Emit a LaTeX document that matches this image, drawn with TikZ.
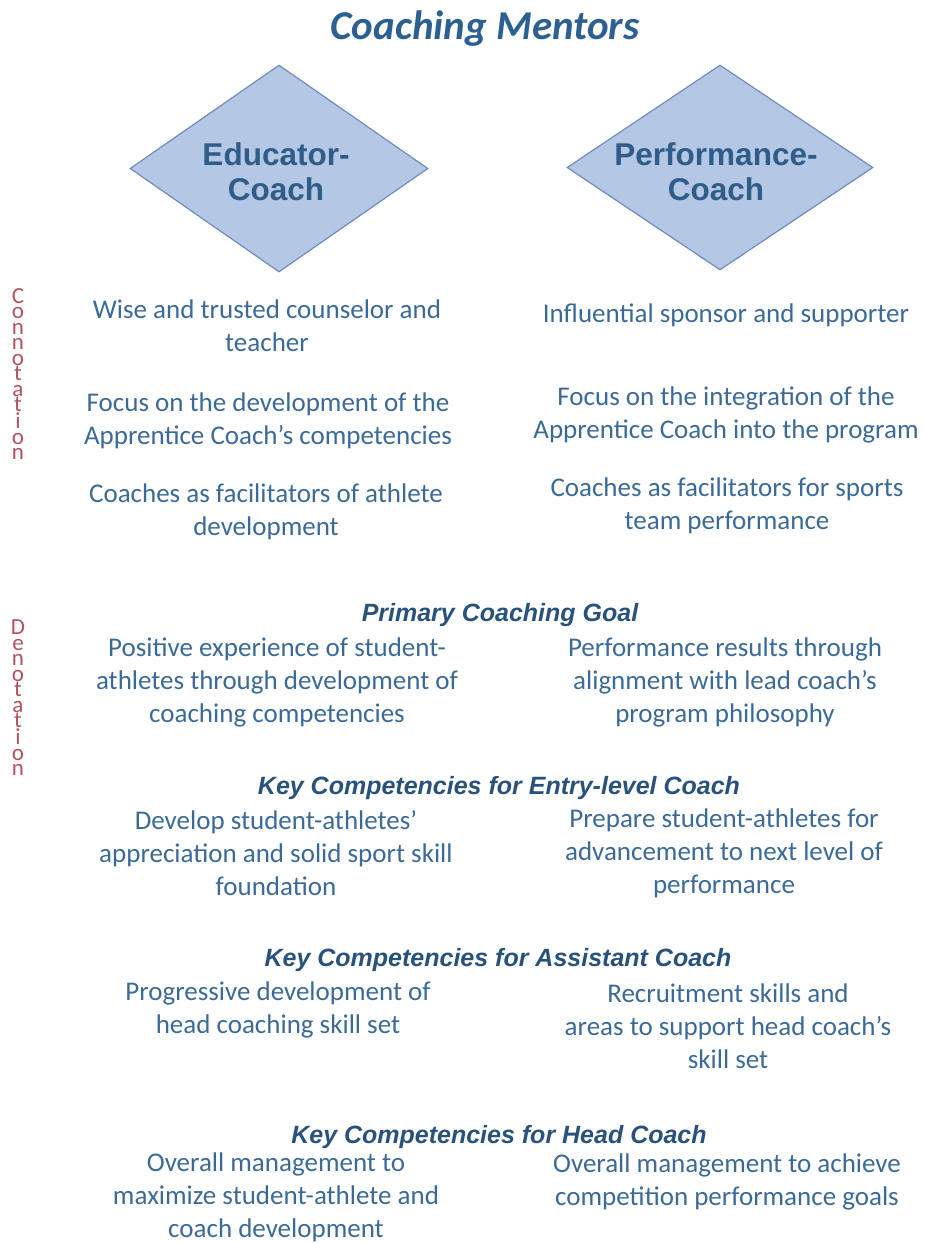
\documentclass[tikz,border=0pt]{standalone}
\usepackage{fontspec}
\setmainfont{Carlito}
\newfontfamily\arialf{Liberation Sans}
\usetikzlibrary{shapes.geometric}
\definecolor{bodyblue}{RGB}{59,106,153}
\definecolor{headblue}{RGB}{40,82,124}
\definecolor{titleblue}{RGB}{45,96,146}
\definecolor{dfill}{RGB}{180,199,229}
\definecolor{dline}{RGB}{110,140,190}
\definecolor{lred}{RGB}{178,82,94}
\tikzset{
  body/.style={text=bodyblue,align=center,inner sep=0pt,font=\fontsize{27}{33}\selectfont},
  head/.style={text=headblue,inner sep=0pt,font=\arialf\bfseries\itshape\fontsize{25}{30}\selectfont},
  dia/.style={shape=diamond,draw=dline,line width=1.2pt,fill=dfill,inner sep=0pt},
  diatext/.style={text=headblue!60!bodyblue,align=center,inner sep=0pt,font=\arialf\bfseries\fontsize{31.5}{35}\selectfont},
  side/.style={text=lred,align=center,inner sep=0pt,font=\fontsize{23}{15.5}\selectfont}
}
\begin{document}
\begin{tikzpicture}[x=1pt,y=-1pt]
\useasboundingbox (0,0) rectangle (925,1243);
\node[text=titleblue,inner sep=0pt,font=\bfseries\itshape\fontsize{41}{46}\selectfont] (title) at (485,29) {Coaching Mentors};
\node[dia,minimum width=298pt,minimum height=207pt] (d1) at (279,168.5) {};
\node[dia,minimum width=306pt,minimum height=205pt] (d2) at (720,167.5) {};
\node[diatext] (d1t) at (276,172) {Educator-\\Coach};
\node[diatext] (d2t) at (716,172) {Performance-\\Coach};
\node[side] (con) at (18,374) {C\\o\\n\\n\\o\\t\\a\\t\\i\\o\\n};
\node[side] (den) at (18,698) {D\\e\\n\\o\\t\\a\\t\\i\\o\\n};
% connotation
\node[body] (l1) at (267,326) {Wise and trusted counselor and\\teacher};
\node[body] (r1) at (726,315) {Influential sponsor and supporter};
\node[body] (l2) at (268,421) {Focus on the development of the\\Apprentice Coach’s competencies};
\node[body] (r2) at (726,415) {Focus on the integration of the\\Apprentice Coach into the program};
\node[body] (l3) at (266,512) {Coaches as facilitators of athlete\\development};
\node[body] (r3) at (727,506) {Coaches as facilitators for sports\\team performance};
% denotation
\node[head] (h1) at (500,615) {Primary Coaching Goal};
\node[body] (l4) at (277,682) {Positive experience of student-\\athletes through development of\\coaching competencies};
\node[body] (r4) at (725,682) {Performance results through\\alignment with lead coach’s\\program philosophy};
\node[head] (h2) at (499,788) {Key Competencies for Entry-level Coach};
\node[body] (l5) at (276,853) {Develop student-athletes’\\appreciation and solid sport skill\\foundation};
\node[body] (r5) at (724,853) {Prepare student-athletes for\\advancement to next level of\\performance};
\node[head] (h3) at (498,960) {Key Competencies for Assistant Coach};
\node[body] (l6) at (278,1010) {Progressive development of\\head coaching skill set};
\node[body] (r6) at (728,1026) {Recruitment skills and\\areas to support head coach’s\\skill set};
\node[head] (h4) at (499,1137) {Key Competencies for Head Coach};
\node[body] (l7) at (276,1197) {Overall management to\\maximize student-athlete and\\coach development};
\node[body] (r7) at (727,1182) {Overall management to achieve\\competition performance goals};
\end{tikzpicture}
\end{document}
